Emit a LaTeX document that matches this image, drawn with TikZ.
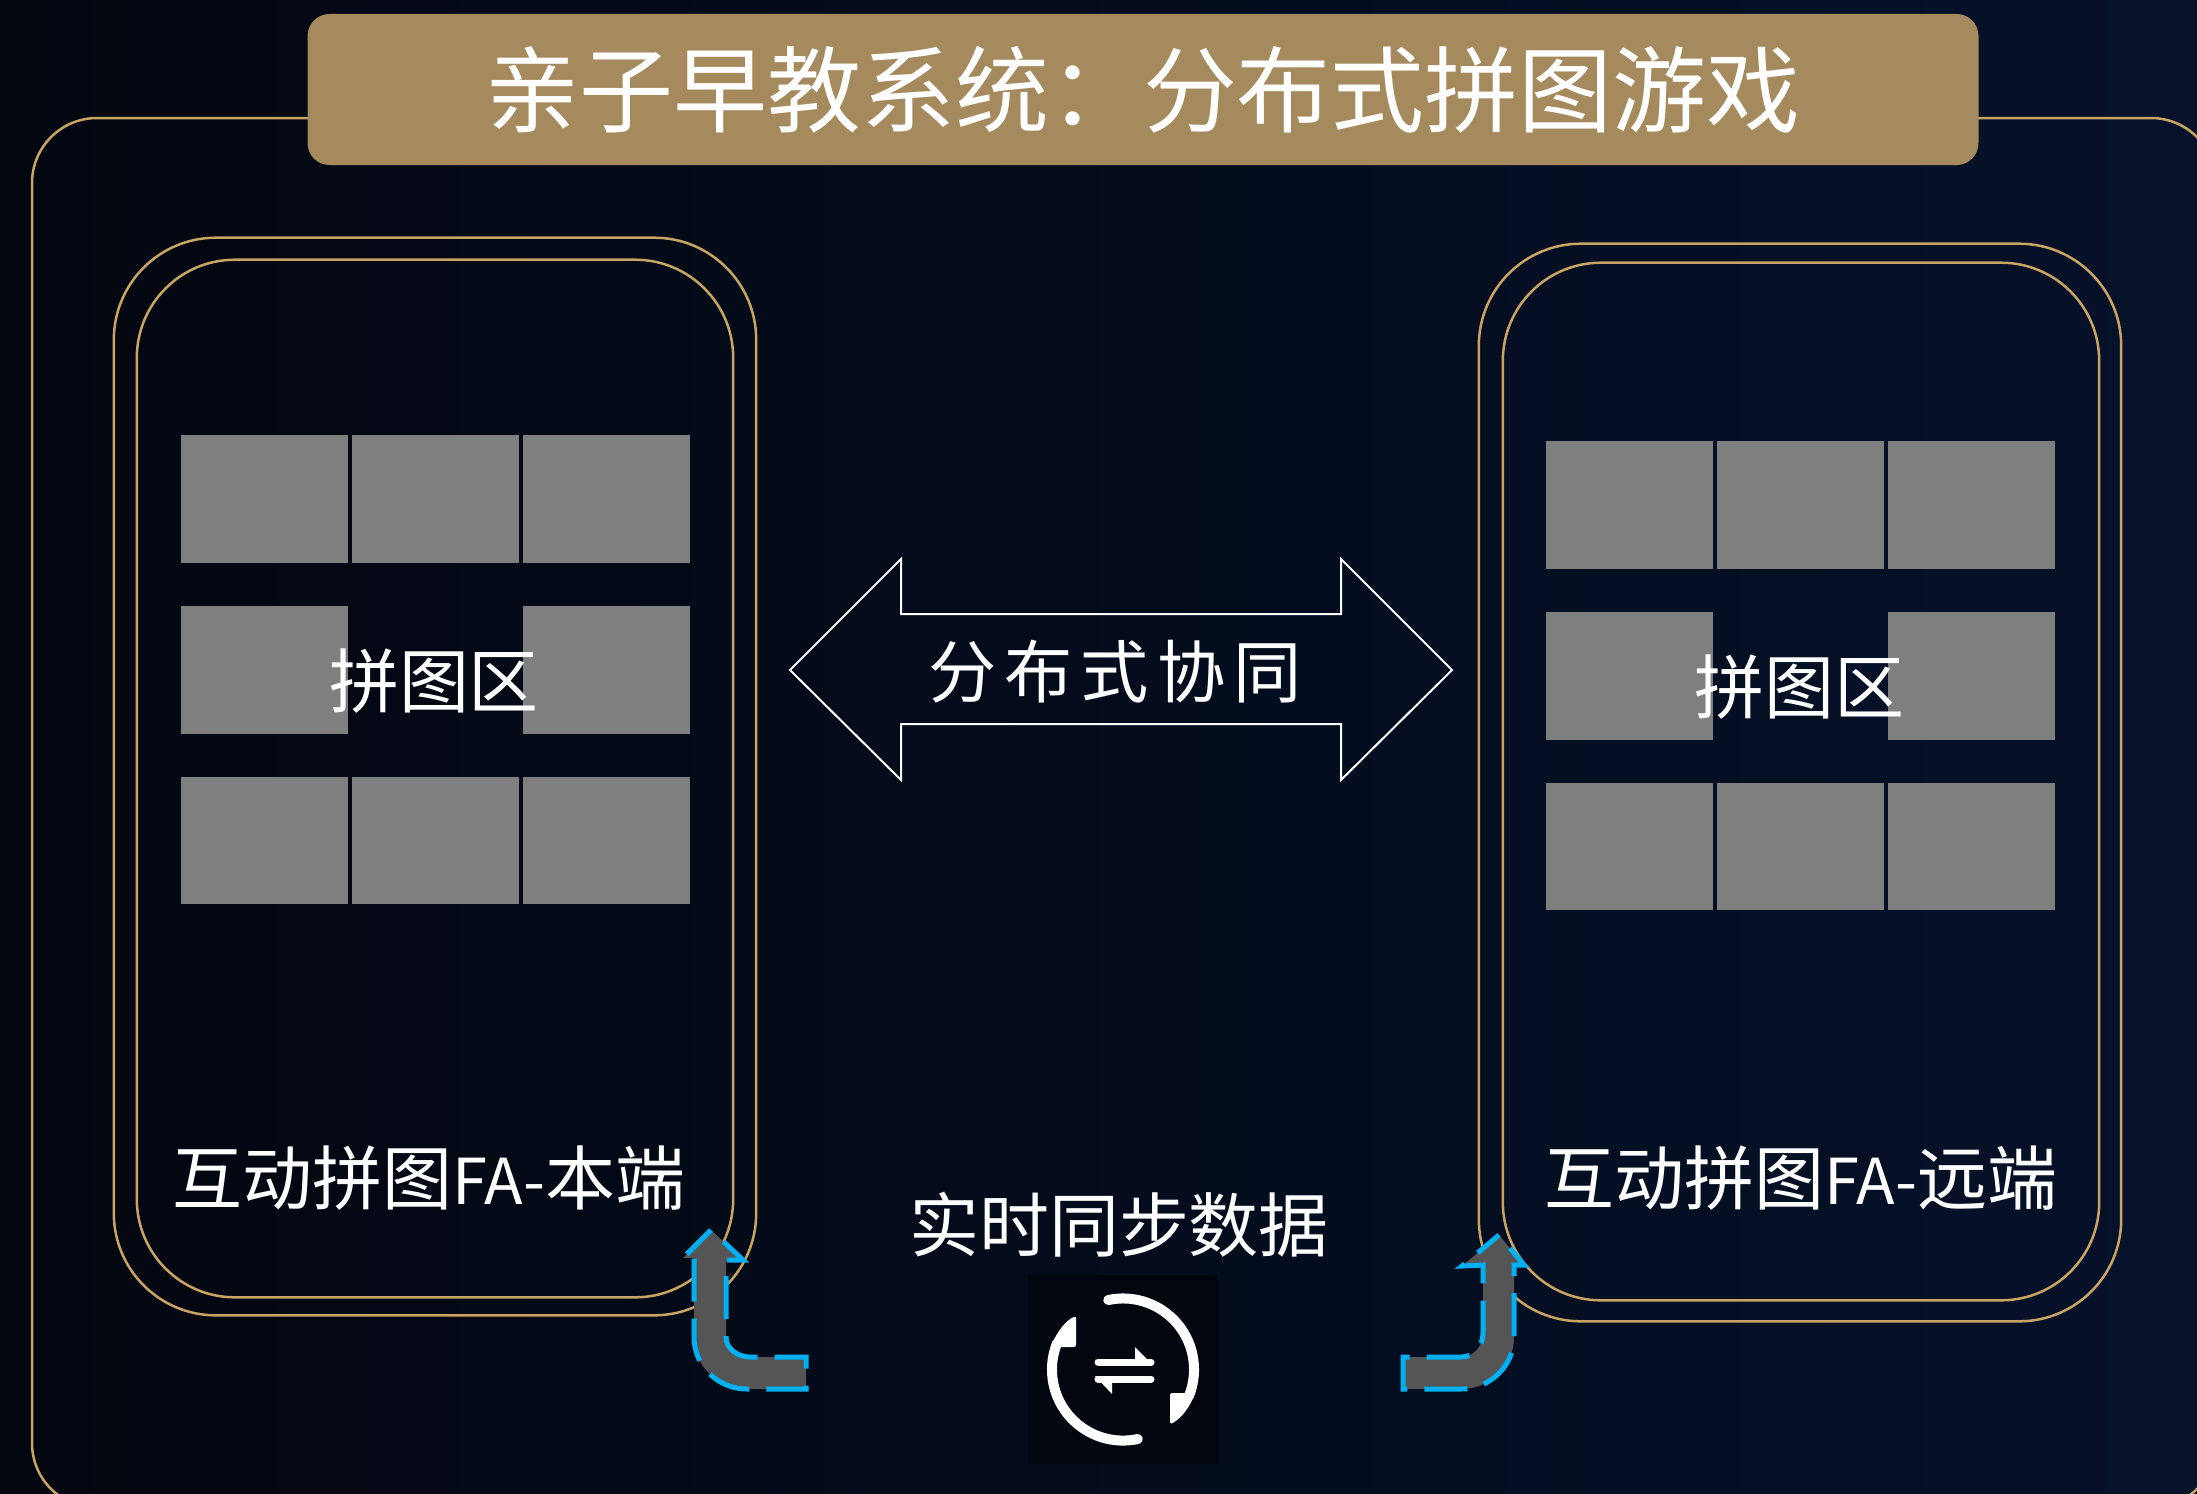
\documentclass[tikz,border=0pt]{standalone}
\usepackage{fontspec}
\setmainfont{Noto Sans CJK SC}
\usetikzlibrary{positioning,calc}
\definecolor{bgleft}{HTML}{02060F}
\definecolor{bgright}{HTML}{06122A}
\definecolor{goldline}{HTML}{C9A463}
\definecolor{titlefill}{HTML}{A58A5E}
\definecolor{tilegray}{HTML}{7F7F7F}
\definecolor{bendgray}{HTML}{555555}
\definecolor{bendblue}{HTML}{00B0F0}
\definecolor{iconback}{HTML}{02060F}
\tikzset{
  outline/.style   = {draw=goldline,line width=0.025cm},
  phoneouter/.style= {outline,rounded corners=1.02cm,minimum width=6.42cm,minimum height=10.77cm},
  phoneinner/.style= {outline,rounded corners=0.98cm,minimum width=5.96cm,minimum height=10.37cm},
  tile/.style      = {fill=tilegray,minimum width=1.66cm,minimum height=1.27cm,inner sep=0pt},
  cjklabel/.style  = {text=white,inner sep=0pt,font=\fontsize{19.9}{24}\selectfont},
  titlebox/.style  = {fill=titlefill,rounded corners=0.22cm,minimum width=16.7cm,minimum height=1.51cm,
                      text=white,font=\fontsize{26.7}{32}\selectfont},
  bentarrow/.style = {fill=bendgray,draw=bendblue,line width=0.05cm,dash pattern=on 0.43cm off 0.17cm,dash phase=0.43cm},
  iconline/.style  = {draw=white,line width=0.1cm,line cap=round}
}
\newcommand{\DrawPhone}[3]{%
  % the two gold frames
  \node[phoneouter] (#1outer) at #2 {};
  \node[phoneinner] (#1inner) at ($(#1outer.center)+#3$) {};
  % the eight tiles, the middle of the grid stays empty
  \foreach \c/\r in {-170.5/-277.5,0.5/-277.5,171.5/-277.5,-170.5/-106.5,171.5/-106.5,-170.5/64,0.5/64,171.5/64}
    \node[tile] (#1tile\c\r) at ($(#1outer.center)+(\c,\r)$) {};
  % puzzle area label
  \node[cjklabel] (#1area) at ($(#1outer.center)+(-1,-95)$) {拼图区};
}
\newcommand{\smallfa}{{\fontsize{18}{24}\selectfont FA-}}
\begin{document}
\begin{tikzpicture}[x=0.01cm,y=-0.01cm]
  \clip (0,0) rectangle (2197,1493);
  \shade[left color=bgleft,right color=bgright] (0,0) rectangle (2197,1493);

  % frame around everything, runs off the page
  \draw[outline,rounded corners=0.65cm] (32,118) rectangle (2216,1508);
  \node[titlebox] (title) at (1143,89.5) {\raisebox{-0.05cm}{亲子早教系统：分布式拼图游戏}};

  \DrawPhone{local}{(435,776.5)}{(0,2)}
  \DrawPhone{remote}{(1800,782.5)}{(1,-1)}

  \node[cjklabel] (localname) at (429,1178) {互动拼图\smallfa 本端};
  \node[cjklabel] (remotename) at (1801,1178) {互动拼图\smallfa 远端};

  % double arrow in the middle
  \draw[white,line width=0.02cm] (790,670) -- (901,559) -- (901,614) -- (1341,614) -- (1341,559)
    -- (1452,670) -- (1341,780) -- (1341,724) -- (901,724) -- (901,780) -- cycle;
  \node[cjklabel] (collab) at (1115,672) {\fontsize{19.4}{24}\selectfont\addfontfeature{LetterSpace=12}分布式协同};

  \node[cjklabel] (syncname) at (1119,1225) {实时同步数据};

  % bent arrows
  \draw[bentarrow] (711,1230) -- (743,1260) -- (726,1260) -- (726,1337)
    .. controls (726,1349) and (738,1357) .. (750,1357) -- (806,1357) -- (806,1389) -- (747,1389)
    .. controls (718,1389) and (694,1366) .. (694,1337) -- (694,1258) -- (683,1258) -- cycle;
  \draw[bentarrow] (1499,1235) -- (1524,1265) -- (1514,1265) -- (1514,1337)
    .. controls (1514,1366) and (1490,1389) .. (1461,1389) -- (1403,1389) -- (1403,1357) -- (1461,1357)
    .. controls (1473,1357) and (1483,1347) .. (1483,1333) -- (1483,1265) -- (1462,1266) -- cycle;

  % sync icon
  \node[fill=iconback,minimum width=1.9cm,minimum height=1.89cm] (syncicon) at (1123,1369.5) {};
  \draw[iconline] ($(syncicon.center)+(102:0.71cm)$) arc[start angle=102,end angle=-22,radius=0.71cm];
  \draw[iconline] ($(syncicon.center)+(-78:0.71cm)$) arc[start angle=-78,end angle=-202,radius=0.71cm];
  \fill[white,rounded corners=0.02cm] (1076,1347) -- (1076,1316) .. controls (1066,1320) and (1056,1333) .. (1051,1347) -- cycle;
  \fill[white,rounded corners=0.02cm] (1170,1393) -- (1170,1424) .. controls (1180,1420) and (1190,1407) .. (1195,1393) -- cycle;
  \draw[white,line width=0.07cm,line cap=round] (1098,1362) -- (1151,1362);
  \fill[white] (1135,1347) -- (1153,1365) -- (1135,1365) -- cycle;
  \draw[white,line width=0.07cm,line cap=round] (1098,1379) -- (1151,1379);
  \fill[white] (1112,1394) -- (1095,1376) -- (1112,1376) -- cycle;
\end{tikzpicture}
\end{document}
